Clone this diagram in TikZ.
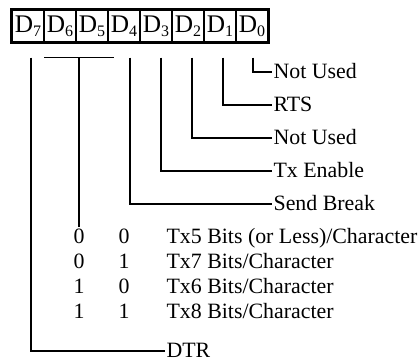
\documentclass[tikz,border=0pt]{standalone}
\usepackage{fontspec}
\setmainfont{Liberation Serif}
\usetikzlibrary{calc}
\newcommand{\bitD}[1]{D\raisebox{-3pt}{\fontsize{12}{12}\selectfont #1}}
\tikzset{
  cell/.style={draw,line width=0.8pt,minimum width=24pt,minimum height=24pt,inner sep=0pt,font=\fontsize{19}{22}\selectfont},
  frame/.style={line width=1.8pt},
  lbl/.style={anchor=west,inner sep=1pt,text height=10pt,text depth=0pt,font=\fontsize{16.4}{19}\selectfont},
  digit/.style={inner sep=0pt,text height=10pt,text depth=0pt,font=\fontsize{16.4}{19}\selectfont},
  wire/.style={line width=1pt}
}

\begin{document}
\begin{tikzpicture}[x=0.75pt,y=0.75pt]
\useasboundingbox (0,0) rectangle (419,364);

% register D7 ... D0
\foreach \i [count=\k from 0] in {7,6,5,4,3,2,1,0}
  \node[cell] (b\i) at (28+32*\k,338) {\bitD{\i}};
\draw[frame] (b7.south west) rectangle (b0.north east);

% top ends of the wires
\foreach \i/\dx in {0/1,1/3,2/4,3/5,4/6,7/3}
  \coordinate (t\i) at ($(b\i.south)+(\dx,-15)$);

% bit labels
\node[lbl] (nu0) at (272,292) {Not Used};
\node[lbl] (rts) at (272,259) {RTS};
\node[lbl] (nu2) at (272,226) {Not Used};
\node[lbl] (txe) at (272,193) {Tx Enable};
\node[lbl] (sbr) at (272,160) {Send Break};
\draw[wire] (t0) |- (nu0.west);
\draw[wire] (t1) |- (rts.west);
\draw[wire] (t2) |- (nu2.west);
\draw[wire] (t3) |- (txe.west);
\draw[wire] (t4) |- (sbr.west);

% D6 D5 character length
\coordinate (brl) at ($(b6.south west)+(1,-15)$);
\coordinate (brr) at ($(b5.south east)+(5,-15)$);
\coordinate (brm) at ($(brl)!0.5!(brr)$);
\foreach \a/\b/\t [count=\r from 0] in {0/0/{Tx5 Bits (or Less)/Character},0/1/{Tx7 Bits/Character},1/0/{Tx6 Bits/Character},1/1/{Tx8 Bits/Character}}{
  \node[digit] (ca\r) at (79,127-25*\r) {\a};
  \node[digit] (cb\r) at (124,127-25*\r) {\b};
  \node[lbl] (tx\r) at (165,127-25*\r) {\t};
}
\draw[wire] (brl) -- (brr);
\draw[wire] (brm) -- ($(brm |- ca0.north)+(0,3)$);

% D7
\node[lbl] (dtr) at (165,13) {DTR};
\draw[wire] (t7) |- (dtr.west);
\end{tikzpicture}
\end{document}
